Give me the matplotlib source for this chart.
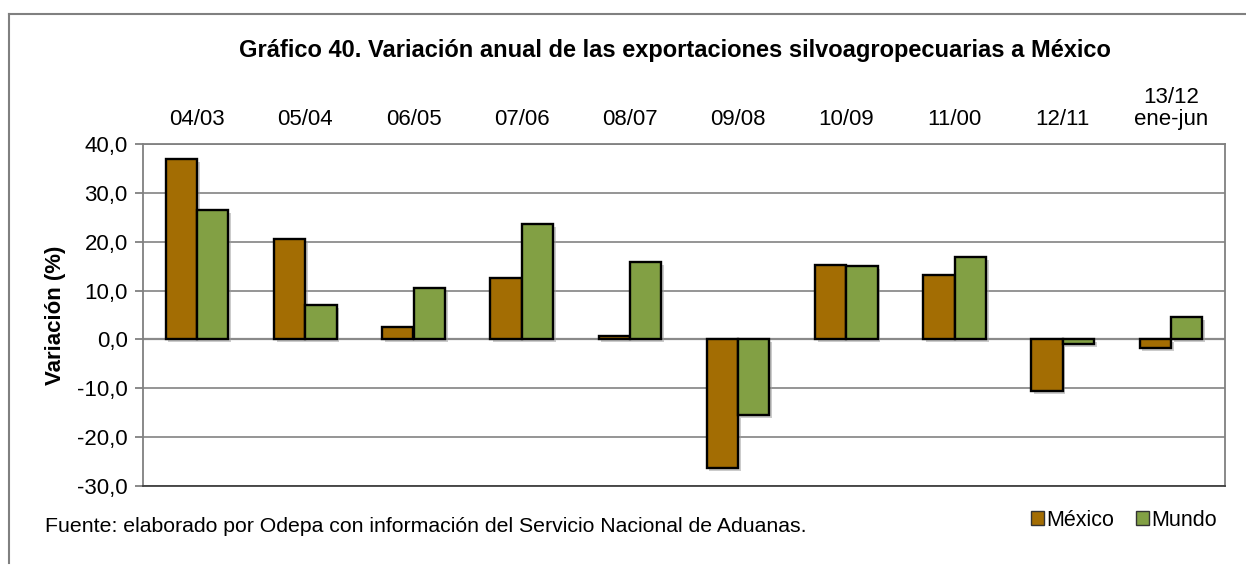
import matplotlib.pyplot as plt
import matplotlib.patheffects as pe
from matplotlib.lines import Line2D
from matplotlib.patches import Patch
from matplotlib.ticker import FuncFormatter
import numpy as np

periodos = ['04/03', '05/04', '06/05', '07/06', '08/07', '09/08', '10/09', '11/00', '12/11', '13/12\nene-jun']
mexico = [36.9, 20.5, 2.5, 12.6, 0.7, -26.3, 15.2, 13.2, -10.6, -1.8]
mundo = [26.5, 7.0, 10.5, 23.6, 15.8, -15.5, 15.0, 16.8, -0.9, 4.6]

color_mex = '#A36D03'
color_mun = '#82A044'

plt.rcParams['font.family'] = ['Liberation Sans', 'DejaVu Sans']

fig = plt.figure(figsize=(12.46, 5.65), dpi=100)
ax = fig.add_axes([143 / 1246, 1 - 486 / 565, 1082 / 1246, 342 / 565])

# outer frame (only left and top visible in the reference)
fig.add_artist(Line2D([9 / 1246, 9 / 1246], [0.003, 1 - 14 / 565], transform=fig.transFigure,
                      color='#808080', lw=1.5))
fig.add_artist(Line2D([9 / 1246, 1.0], [1 - 14 / 565, 1 - 14 / 565], transform=fig.transFigure,
                      color='#808080', lw=1.5))

x = np.arange(len(periodos))
w = 0.29
shadow = [pe.SimplePatchShadow(offset=(2, -2), shadow_rgbFace='#999999', alpha=0.5), pe.Normal()]
b1 = ax.bar(x - w / 2, mexico, w, color=color_mex, edgecolor='black', linewidth=1.7, zorder=3)
b2 = ax.bar(x + w / 2, mundo, w, color=color_mun, edgecolor='black', linewidth=1.7, zorder=3)
for b in list(b1) + list(b2):
    b.set_path_effects(shadow)

ax.set_xlim(-0.5, len(periodos) - 0.5)
ax.set_ylim(-30, 40)
ax.set_yticks(np.arange(-30, 41, 10))
ax.yaxis.set_major_formatter(FuncFormatter(lambda v, p: f'{v:.1f}'.replace('.', ',')))
ax.grid(axis='y', color='#8c8c8c', linewidth=1.3, zorder=0)
ax.axhline(0, color='#808080', linewidth=1.6, zorder=1)

ax.xaxis.tick_top()
ax.set_xticks(x)
ax.set_xticklabels(periodos, fontsize=16, linespacing=1.05)
ax.tick_params(axis='x', length=0, pad=10)
ax.tick_params(axis='y', labelsize=16, length=6, color='#808080', width=1.3, direction='out', pad=5)

for s in ['left', 'top', 'right', 'bottom']:
    ax.spines[s].set_color('#808080')
    ax.spines[s].set_linewidth(1.3)
ax.spines['bottom'].set_color('#404040')

ax.set_ylabel('Variación (%)', fontsize=16, fontweight='bold', labelpad=8)

fig.text(0.542, 1 - 50 / 565, 'Gráfico 40. Variación anual de las exportaciones silvoagropecuarias a México',
         ha='center', va='center', fontsize=17, fontweight='bold')
fig.text(45 / 1246, 1 - 527 / 565, 'Fuente: elaborado por Odepa con información del Servicio Nacional de Aduanas.',
         ha='left', va='center', fontsize=15.3)

handles = [Patch(facecolor=color_mex, edgecolor='#333333', label='México'),
           Patch(facecolor=color_mun, edgecolor='#333333', label='Mundo')]
fig.legend(handles=handles, loc='center right', bbox_to_anchor=(1225 / 1246, 1 - 520 / 565), ncol=2,
           frameon=False, fontsize=15.5, handlelength=0.6, handleheight=0.6, handletextpad=0.1,
           columnspacing=1.0, borderaxespad=0)

fig.savefig('out.png', dpi=100)
